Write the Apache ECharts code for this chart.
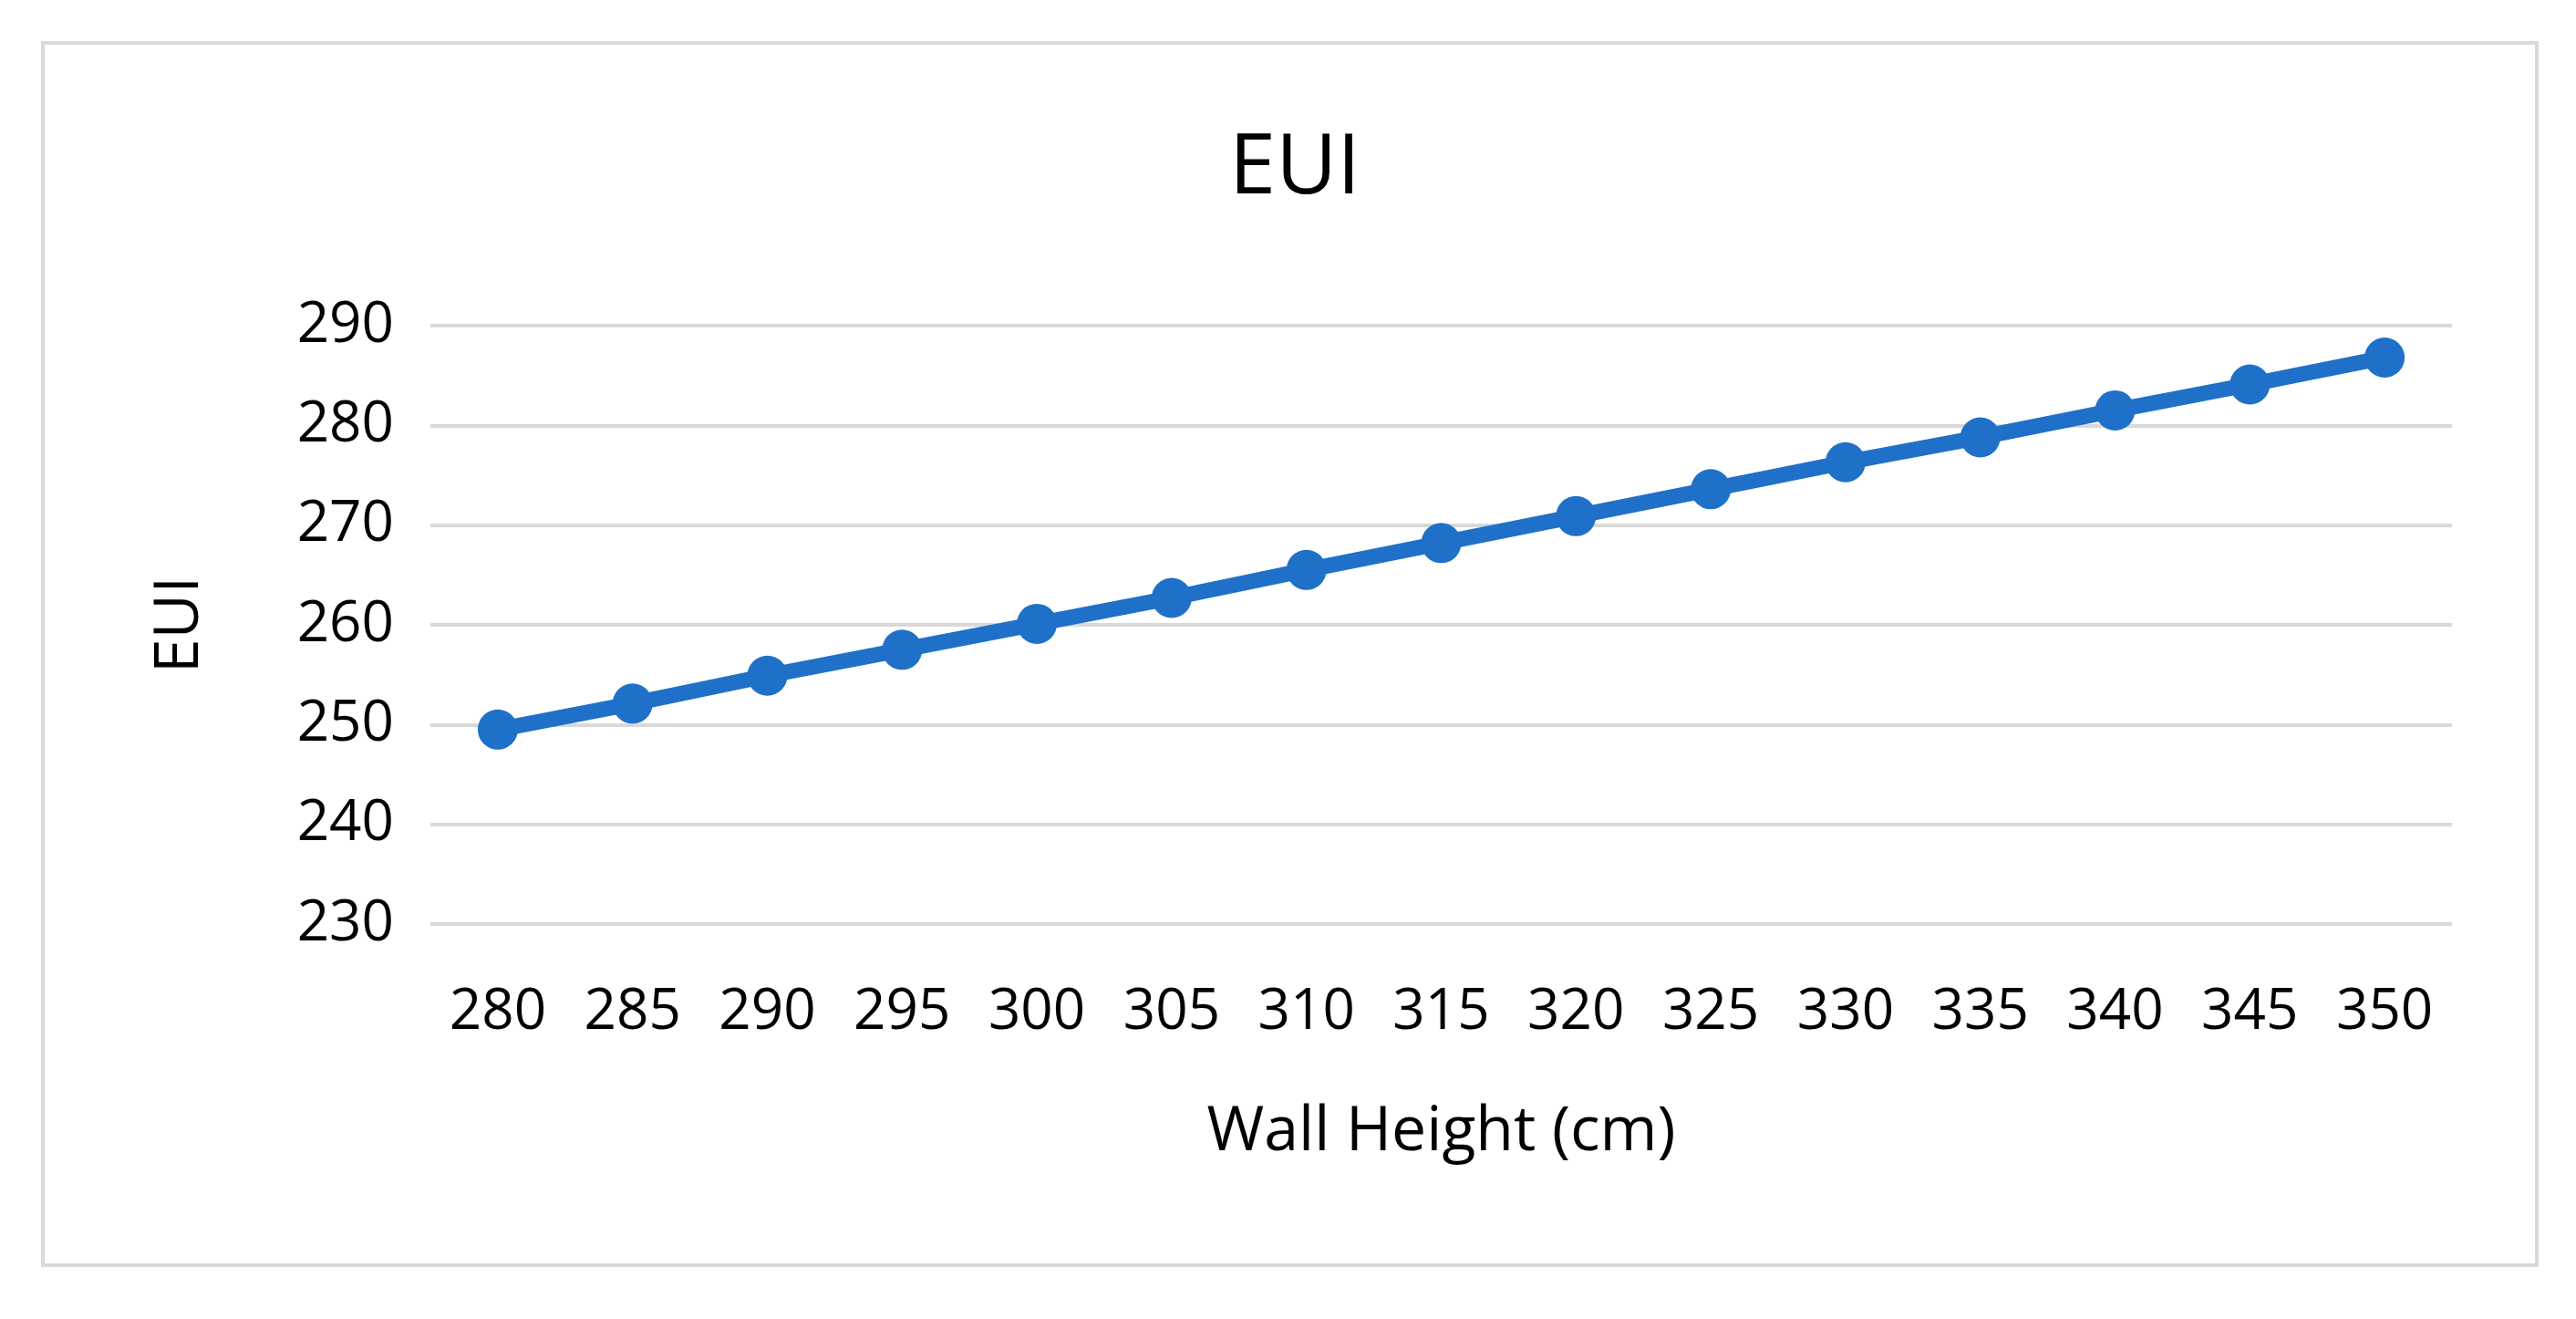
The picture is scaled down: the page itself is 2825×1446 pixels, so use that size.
<!DOCTYPE html>
<html>
<head>
<meta charset="utf-8">
<script src="https://cdn.jsdelivr.net/npm/echarts@6/dist/echarts.min.js"></script>
<style>
html,body{margin:0;padding:0;background:#fff;}
#box{position:absolute;left:45px;top:45px;width:2739px;height:1344px;border:4px solid #d9d9d9;box-sizing:border-box;}
#chart{position:absolute;left:0;top:0;width:2825px;height:1446px;}
</style>
</head>
<body>
<div id="box"></div>
<div id="chart"></div>
<script>
var wallHeights = ['280','285','290','295','300','305','310','315','320','325','330','335','340','345','350'];
var euiValues = [249.5, 252.1, 254.9, 257.5, 260.1, 262.7, 265.5, 268.2, 270.9, 273.6, 276.3, 278.8, 281.5, 284.1, 286.8];
var yTicks = [230, 290, 10];

var myChart = echarts.init(document.getElementById('chart'));
myChart.setOption({
    title: {
        text: 'EUI',
        left: 1415,
        top: 135,
        textAlign: 'center',
        textStyle: {fontFamily: 'Open Sans', fontWeight: 'normal', fontSize: 92, color: '#000'}
    },
    grid: {left: 472, right: 2825 - 2689, top: 357, bottom: 1446 - 1013},
    xAxis: {
        type: 'category',
        data: wallHeights,
        boundaryGap: true,
        name: 'Wall Height (cm)',
        nameLocation: 'middle',
        nameGap: 195,
        nameTextStyle: {fontFamily: 'Open Sans', fontSize: 68, color: '#000'},
        axisLine: {show: false},
        axisTick: {show: false},
        axisLabel: {fontFamily: 'Open Sans', fontSize: 62, color: '#000', margin: 66}
    },
    yAxis: {
        type: 'value',
        min: yTicks[0],
        max: yTicks[1],
        interval: yTicks[2],
        name: 'EUI',
        nameLocation: 'middle',
        nameGap: 240,
        nameTextStyle: {fontFamily: 'Open Sans', fontSize: 68, color: '#000'},
        axisLine: {show: false},
        axisTick: {show: false},
        axisLabel: {fontFamily: 'Open Sans', fontSize: 62, color: '#000', margin: 40},
        splitLine: {lineStyle: {color: '#d9d9d9', width: 4}}
    },
    series: [{
        type: 'line',
        data: euiValues,
        symbol: 'circle',
        symbolSize: 44,
        lineStyle: {color: '#1f70c8', width: 17},
        itemStyle: {color: '#1f70c8'}
    }]
});
</script>
</body>
</html>
